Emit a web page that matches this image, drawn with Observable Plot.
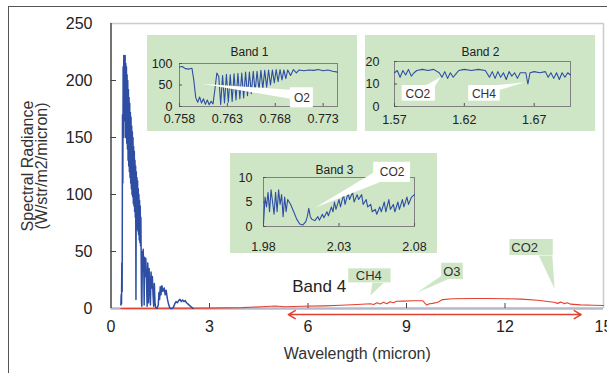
<!DOCTYPE html>
<html><head><meta charset="utf-8">
<script src="https://cdn.jsdelivr.net/npm/d3@7"></script>
<script src="https://cdn.jsdelivr.net/npm/@observablehq/plot@0.6"></script>
<style>
body{margin:0;background:#fff;}
#chart{position:relative;width:607px;height:373px;overflow:hidden;font-family:"Liberation Sans",Arial,sans-serif;background:#fff;}
#border{position:absolute;left:8px;top:6px;width:640px;height:420px;border-left:1.5px solid #555;border-top:1.5px solid #555;}
.inset{position:absolute;}
</style></head><body><div id="chart"><div id="border"></div></div>
<script>
// ---------- data ----------
const xTicks = [0, 3, 6, 9, 12, 15];
const yTicks = [0, 50, 100, 150, 200, 250];

// main solar-reflected spectrum [wavelength micron, radiance]
const blueSpectrum = [
[0.30,3],[0.31,12],[0.32,4],[0.33,40],[0.34,15],[0.35,170],[0.36,110],[0.37,212],[0.38,150],[0.39,222],
[0.40,165],[0.41,210],[0.42,170],[0.43,222],[0.44,150],[0.45,215],[0.46,160],[0.47,212],[0.48,145],[0.49,205],
[0.50,140],[0.51,200],[0.52,130],[0.53,192],[0.54,125],[0.55,185],[0.56,120],[0.57,180],[0.58,115],[0.59,172],
[0.60,110],[0.61,168],[0.62,105],[0.63,160],[0.64,100],[0.65,155],[0.66,98],[0.67,150],[0.68,92],[0.69,142],
[0.70,90],[0.71,138],[0.72,85],[0.73,130],[0.74,80],[0.75,125],[0.76,8],[0.77,120],[0.78,75],[0.79,115],
[0.80,70],[0.81,112],[0.82,68],[0.83,105],[0.84,65],[0.85,100],[0.86,60],[0.87,95],[0.88,58],[0.89,90],
[0.90,55],[0.91,80],[0.92,40],[0.93,5],[0.94,2],[0.95,30],[0.96,50],[0.97,35],[0.98,52],[1.00,30],
[1.01,3],[1.02,45],[1.04,28],[1.06,44],[1.08,25],[1.10,2],[1.12,40],[1.14,5],[1.16,35],[1.18,20],
[1.20,3],[1.22,32],[1.24,18],[1.26,28],[1.28,12],[1.30,2],[1.32,22],[1.34,5],[1.36,1],[1.40,0],
[1.44,3],[1.46,14],[1.48,8],[1.50,19],[1.52,12],[1.55,20],[1.58,15],[1.62,18],[1.65,12],[1.68,16],
[1.72,8],[1.76,3],[1.80,0],[1.86,0],[1.90,1],[1.94,4],[1.98,6],[2.02,5],[2.06,7],[2.10,8],
[2.14,6],[2.18,7.5],[2.22,6],[2.26,7],[2.30,5],[2.34,4],[2.38,3],[2.42,2],[2.46,1],[2.50,0]
];
// thermal spectrum (band 4)
const redSpectrum = [
[0.3,0],[3.0,0.3],[4.0,0.8],[4.6,1.5],[5.0,2.2],[5.3,1.5],[5.8,2],[6.5,2.3],[7.0,2.8],[7.5,3.5],
[7.9,4.2],[8.0,3.5],[8.1,5],[8.2,4],[8.3,5.5],[8.4,4.2],[8.5,6],[8.6,5],[8.7,6.3],[8.9,6.5],
[9.2,6.8],[9.5,6.8],[9.55,5],[9.62,3],[9.7,4.2],[9.8,4.5],[9.95,5.5],[10.1,7.8],[10.4,8.6],[11.0,8.8],
[11.5,8.8],[12.0,8.6],[12.5,8.2],[13.0,7.2],[13.3,6.2],[13.5,5.5],[13.6,4.5],[13.7,5.6],[13.8,4.3],[13.9,5],
[14.0,3.8],[14.3,3.2],[14.7,2.8],[15.0,2.6]
];
const band4Arrow = {from: 5.4, to: 14.32, y: -5.3};
const band4Label = {text: "Band 4", x: 6.34, y: 19.3};
const mainCallouts = [
  {label: "CH4", box: [7.24, 8.53, 22.5, 34.8], tx: 7.85, ty: 28.7, tri: [[7.96, 22.5], [8.31, 22.5], [7.9, 11.4]]},
  {label: "O3",  box: [10.07, 10.73, 25.4, 39.7], tx: 10.38, ty: 32.5, tri: [[10.07, 29], [10.25, 25.4], [9.33, 14]]},
  {label: "CO2", box: [12.15, 13.47, 46.5, 60.5], tx: 12.6, ty: 53.5, tri: [[13.03, 46.5], [13.44, 46.5], [13.51, 17.3]]}
];

// Band 1 (O2 A band)
const band1Ticks = [0.758, 0.763, 0.768, 0.773];
const band1YTicks = [0, 50, 100];
const band1 = [
[0.7580,92],[0.7583,93],[0.7586,88],[0.7590,87],[0.7593,89],[0.7595,60],[0.7597,20],[0.7599,10],[0.7601,22],[0.7603,8],
[0.7605,18],[0.7607,5],[0.7609,15],[0.7611,4],[0.7613,12],[0.7615,6],[0.7617,40],[0.7619,78],[0.7621,70],[0.7623,5],
[0.7625,72],[0.7627,8],[0.7629,75],[0.7631,10],[0.7633,74],[0.7635,12],[0.7637,76],[0.7639,15],[0.7641,77],[0.7643,18],
[0.7645,78],[0.7647,20],[0.7649,80],[0.7651,25],[0.7653,80],[0.7655,30],[0.7657,82],[0.7659,35],[0.7661,82],[0.7663,38],
[0.7665,84],[0.7667,42],[0.7669,84],[0.7671,45],[0.7673,85],[0.7675,50],[0.7677,85],[0.7679,55],[0.7681,86],[0.7683,58],
[0.7685,86],[0.7687,62],[0.7689,85],[0.7691,65],[0.7693,85],[0.7696,72],[0.7699,86],[0.7702,78],[0.7705,85],[0.7710,83],
[0.7715,85],[0.7720,84],[0.7725,86],[0.7730,83],[0.7735,85],[0.7740,82],[0.7745,80]
];
const band1Callouts = [
  {label: "O2", box: [0.76958, 0.77198, -3, 43.5], tx: 0.77078, ty: 19, tri: [[0.76033, 53], [0.76958, 39], [0.76958, 18]]}
];

// Band 2 (CO2 / CH4)
const band2Ticks = [1.57, 1.62, 1.67];
const band2YTicks = [0, 10, 20];
const band2 = [
[1.570,15],[1.572,16],[1.574,13],[1.576,16],[1.578,14],[1.580,16.5],[1.582,13.5],[1.584,15],[1.586,16],[1.590,16.5],
[1.594,16],[1.598,16.5],[1.602,15],[1.604,13],[1.606,15.5],[1.608,12.5],[1.610,15],[1.612,13],[1.614,14.5],[1.616,16],
[1.620,16.5],[1.625,16],[1.630,16.5],[1.635,16],[1.638,13],[1.640,15.5],[1.642,12.5],[1.644,15.5],[1.646,13],[1.648,15],
[1.650,12],[1.652,15.5],[1.654,13.5],[1.656,15],[1.658,12.5],[1.660,15],[1.664,15],[1.6655,10],[1.667,15],[1.670,15.5],
[1.674,15],[1.678,15.5],[1.680,13],[1.682,15],[1.684,12.5],[1.686,15],[1.688,12],[1.690,15],[1.692,13],[1.694,15],[1.696,14]
];
const band2Callouts = [
  {label: "CO2", box: [1.5755, 1.5993, 2.36, 9.33], tx: 1.5868, ty: 5.6, tri: [[1.5921, 9.33], [1.5993, 9.33], [1.6029, 13.0]]},
  {label: "CH4", box: [1.6231, 1.6457, 2.36, 9.33], tx: 1.6340, ty: 5.6, tri: [[1.6410, 9.33], [1.6457, 7.5], [1.6636, 10.8]]}
];

// Band 3 (CO2)
const band3Ticks = [1.98, 2.03, 2.08];
const band3YTicks = [0, 5, 10];
const band3 = [
[1.980,0.5],[1.981,6],[1.982,4],[1.983,7],[1.984,3],[1.985,7.5],[1.986,5],[1.987,2.5],[1.988,7],[1.989,3],
[1.990,7.5],[1.991,4.5],[1.992,6.5],[1.993,2],[1.994,6],[1.995,3],[1.996,5.5],[1.998,4.5],[2.000,3],[2.002,1.5],
[2.004,0.5],[2.006,0.3],[2.008,1],[2.009,2],[2.010,3.7],[2.011,2],[2.012,1.5],[2.014,1.2],[2.016,2],[2.017,1.3],
[2.019,2.5],[2.020,1.8],[2.022,3],[2.023,2.2],[2.025,4],[2.026,3],[2.027,5],[2.028,3.5],[2.030,5.5],[2.031,4],
[2.033,6.5],[2.034,4.5],[2.036,6.8],[2.037,5.5],[2.039,7],[2.040,5],[2.042,6.5],[2.043,5.5],[2.045,6.5],[2.046,4.5],
[2.048,5.5],[2.049,4],[2.051,4.5],[2.052,3],[2.054,3.5],[2.055,2.5],[2.057,4],[2.058,3],[2.060,5],[2.061,3],
[2.063,5.5],[2.064,3.5],[2.066,4.5],[2.067,3],[2.069,5],[2.070,3.5],[2.072,5.5],[2.073,4],[2.075,6],[2.076,4.5],
[2.078,6],[2.080,6.5]
];
const band3Callouts = [
  {label: "CO2", box: [2.0530, 2.0774, 9.0, 13.1], tx: 2.0652, ty: 11.1, tri: [[2.0530, 11.0], [2.0565, 9.0], [2.0144, 3.9]]}
];

// ---------- styles ----------
const BLUE = "#2d4ea3", RED = "#e2412f", GREEN = "#cfe6c6", TXT = "#222";
const FONT = '"Liberation Sans", Arial, sans-serif';
const pts = arr => arr.map(([x, y]) => ({x, y}));
const chart = document.getElementById("chart");

// ---------- main chart ----------
const mid = (band4Arrow.from + band4Arrow.to) / 2;
const main = Plot.plot({
  width: 607, height: 373,
  marginLeft: 110.5, marginRight: 4, marginTop: 23, marginBottom: 65,
  style: {fontFamily: FONT, fontSize: "16px", color: TXT, background: "transparent", overflow: "visible"},
  x: {domain: [0, 15]},
  y: {domain: [0, 250]},
  marks: [
    Plot.ruleY([250], {stroke: "#cccccc", strokeWidth: 1.5}),
    Plot.ruleX([15], {stroke: "#cccccc", strokeWidth: 1.5}),
    Plot.ruleY([0], {stroke: "#b4bacb", strokeWidth: 2.5}),
    Plot.ruleX([0], {stroke: "#444", strokeWidth: 1.5}),
    Plot.tickX(xTicks.slice(1, -1), {x: d => d, insetTop: 280, stroke: "#444"}),
    Plot.tickY(yTicks.slice(1, -1), {y: d => d, insetRight: 487, stroke: "#444"}),
    Plot.axisX({ticks: xTicks, tickSize: 0, tickPadding: 12, label: null, tickFormat: d => String(d)}),
    Plot.axisY({ticks: yTicks, tickSize: 0, tickPadding: 18.5, label: null, tickFormat: d => String(d)}),
    Plot.text(["Spectral Radiance\n(W/str/m2/micron)"], {frameAnchor: "left", textAnchor: "middle", rotate: -90, dx: -75.5, fontSize: 16, lineHeight: 0.875, fill: "#333"}),
    Plot.text(["Wavelength (micron)"], {frameAnchor: "bottom", dy: 50, fontSize: 16, fill: "#333"}),
    Plot.line(pts(redSpectrum), {x: "x", y: "y", stroke: RED, strokeWidth: 1.1}),
    Plot.line(pts(blueSpectrum), {x: "x", y: "y", stroke: BLUE, strokeWidth: 1.5}),
    Plot.arrow([band4Arrow], {x1: mid, y1: d => d.y, x2: d => d.from, y2: d => d.y, stroke: RED, strokeWidth: 1.5, headLength: 8}),
    Plot.arrow([band4Arrow], {x1: mid, y1: d => d.y, x2: d => d.to, y2: d => d.y, stroke: RED, strokeWidth: 1.5, headLength: 8}),
    Plot.text([band4Label], {x: "x", y: "y", text: "text", fontSize: 17, fill: TXT}),
    ...mainCallouts.flatMap(c => [
      Plot.line(c.tri, {x: d => d[0], y: d => d[1], fill: GREEN, stroke: "none"}),
      Plot.rect([c], {x1: d => d.box[0], x2: d => d.box[1], y1: d => d.box[2], y2: d => d.box[3], fill: GREEN}),
      Plot.text([c], {x: "tx", y: "ty", text: "label", fontSize: 13, fill: "#333"})
    ])
  ]
});
main.style.position = "absolute"; main.style.left = "0px"; main.style.top = "0px";
chart.appendChild(main);

// ---------- insets ----------
function inset(o) {
  const innerW = o.width - o.ml - o.mr, innerH = o.height - o.mt - o.mb;
  const svg = Plot.plot({
    width: o.width, height: o.height,
    marginLeft: o.ml, marginRight: o.mr, marginTop: o.mt, marginBottom: o.mb,
    style: {fontFamily: FONT, fontSize: "12px", color: TXT, background: GREEN, overflow: "visible"},
    x: {domain: o.xDomain},
    y: {domain: o.yDomain},
    marks: [
      Plot.frame({stroke: "#808080"}),
      Plot.tickX(o.xTicks, {x: d => d, insetTop: innerH - 3, stroke: "#555"}),
      Plot.tickY(o.yTicks, {y: d => d, insetRight: innerW - 3, stroke: "#555"}),
      Plot.axisX({ticks: o.xTicks, tickSize: 0, tickPadding: o.xPad, label: null, tickFormat: d => String(d), fontSize: 12.5}),
      Plot.axisY({ticks: o.yTicks, tickSize: 0, tickPadding: o.yPad, label: null, tickFormat: d => String(d), fontSize: 12.5}),
      Plot.line(pts(o.data), {x: "x", y: "y", stroke: BLUE, strokeWidth: 1.1}),
      Plot.text([o.title], {frameAnchor: "top-left", dx: o.tdx, dy: o.tdy, text: d => d, fontSize: 12, fill: TXT, textAnchor: "middle"}),
      ...o.callouts.flatMap(c => [
        Plot.line(c.tri, {x: d => d[0], y: d => d[1], fill: "white", stroke: "none"}),
        Plot.rect([c], {x1: d => d.box[0], x2: d => d.box[1], y1: d => d.box[2], y2: d => d.box[3], fill: "white"}),
        Plot.text([c], {x: "tx", y: "ty", text: "label", fontSize: 12, fill: "#333"})
      ])
    ]
  });
  const div = document.createElement("div");
  div.className = "inset";
  div.style.left = o.left + "px"; div.style.top = o.top + "px";
  div.appendChild(svg);
  chart.appendChild(div);
}

inset({title: "Band 1", data: band1, xDomain: [0.758, 0.7745], yDomain: [0, 100], xTicks: band1Ticks, yTicks: band1YTicks,
  callouts: band1Callouts, left: 147, top: 35, width: 210, height: 96, ml: 32, mr: 20, mt: 28, mb: 25, xPad: 8, yPad: 7, tdx: 70, tdy: -16});
inset({title: "Band 2", data: band2, xDomain: [1.57, 1.696], yDomain: [0, 20], xTicks: band2Ticks, yTicks: band2YTicks,
  callouts: band2Callouts, left: 365, top: 35, width: 230, height: 96, ml: 29, mr: 25, mt: 26, mb: 25, xPad: 9, yPad: 15, tdx: 86, tdy: -14});
inset({title: "Band 3", data: band3, xDomain: [1.98, 2.08], yDomain: [0, 10], xTicks: band3Ticks, yTicks: band3YTicks,
  callouts: band3Callouts, left: 230, top: 153, width: 207, height: 100, ml: 33, mr: 23, mt: 24, mb: 27, xPad: 16, yPad: 11, tdx: 71, tdy: -12});
</script>
</body></html>
